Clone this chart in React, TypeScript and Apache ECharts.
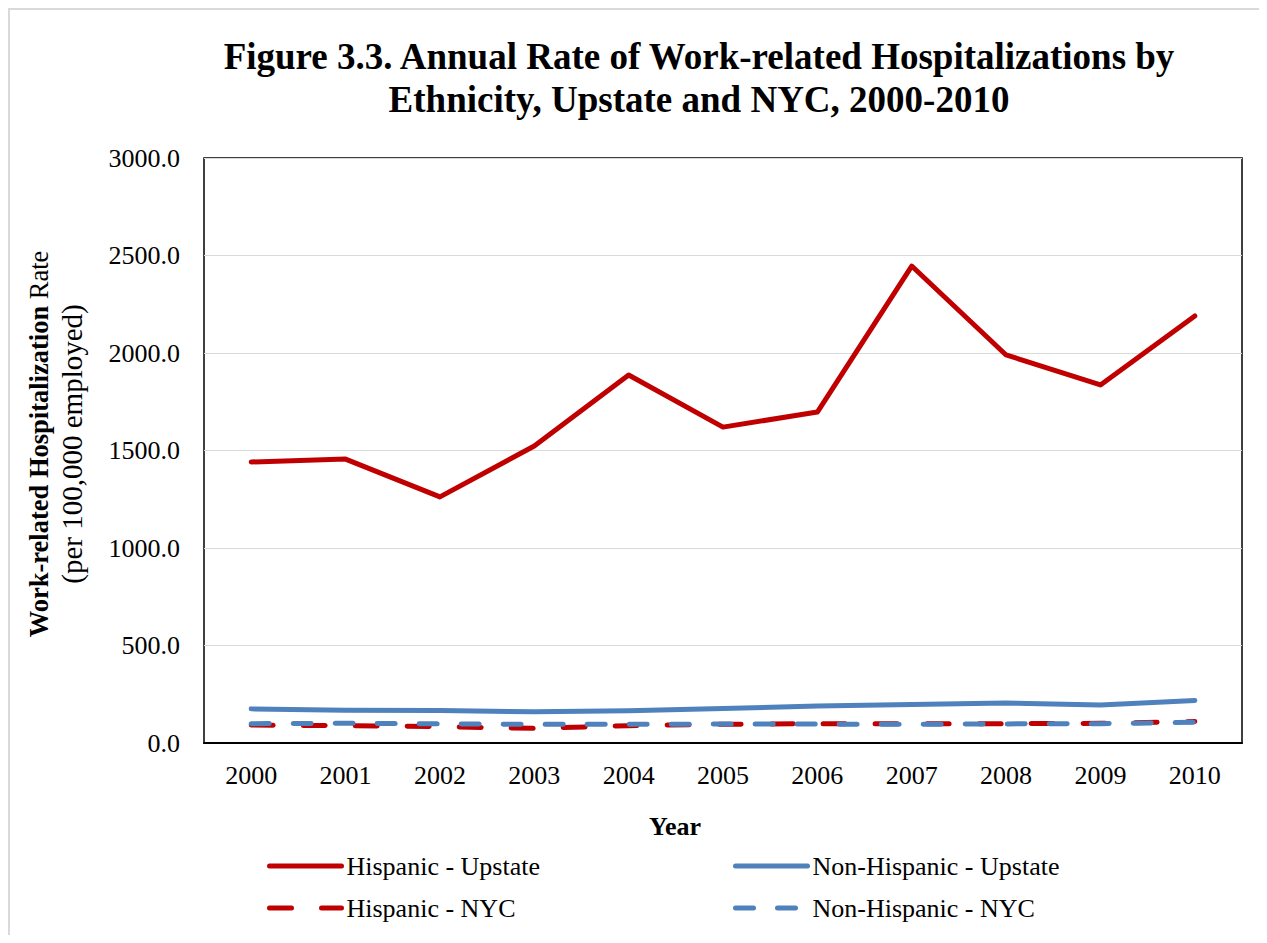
import React, { useEffect, useRef } from "react";
import * as echarts from "echarts";

const years = ["2000", "2001", "2002", "2003", "2004", "2005", "2006", "2007", "2008", "2009", "2010"];
const hispanicUpstate = [1441, 1456, 1262, 1523, 1887, 1620, 1697, 2446, 1990, 1836, 2190];
const nonHispanicUpstate = [175, 168, 167, 160, 165, 177, 190, 197, 205, 195, 218];
const hispanicNYC = [92, 89, 84, 75, 89, 96, 99, 99, 99, 101, 110];
const nonHispanicNYC = [99, 101, 98, 96, 96, 97, 97, 96, 98, 99, 106];

const seriesNames = ["Hispanic - Upstate", "Non-Hispanic - Upstate", "Hispanic - NYC", "Non-Hispanic - NYC"];
const RED = "#C00000";
const BLUE = "#4F81BD";
const FONT = "'Liberation Serif', 'Times New Roman', serif";

export default function App() {
  const ref = useRef<HTMLDivElement>(null);
  useEffect(() => {
    if (!ref.current) return;
    const chart = echarts.init(ref.current, undefined, { renderer: "svg" });
    const legendBase = {
      orient: "horizontal",
      padding: 0,
      itemWidth: 72,
      itemHeight: 14,
      textStyle: { fontFamily: FONT, fontSize: 26, color: "#000" },
      itemStyle: { opacity: 0 },
      lineStyle: { width: 5 },
      selectedMode: false,
    };
    chart.setOption({
      animation: false,
      textStyle: { fontFamily: FONT },
      graphic: [
        {
          type: "rect",
          shape: { x: 1, y: 1, width: 1300, height: 1000 },
          style: { fill: "none", stroke: "#d9d9d9", lineWidth: 2 },
          silent: true,
        },
        {
          type: "text",
          x: 691,
          y: 70,
          style: {
            text: "Figure 3.3. Annual Rate of Work-related Hospitalizations by\nEthnicity, Upstate and NYC, 2000-2010",
            font: "bold 37px " + FONT,
            fill: "#000",
            textAlign: "center",
            textVerticalAlign: "middle",
            lineHeight: 43,
          },
        },
        {
          type: "text",
          x: 667,
          y: 818,
          style: {
            text: "Year",
            font: "bold 26px " + FONT,
            fill: "#000",
            textAlign: "center",
            textVerticalAlign: "middle",
          },
        },
        {
          type: "text",
          x: 47,
          y: 436,
          rotation: Math.PI / 2,
          style: {
            text: "{b|Work-related Hospitalization}{n| Rate}\n{m|(per 100,000 employed)}",
            fill: "#000",
            textAlign: "center",
            textVerticalAlign: "middle",
            rich: {
              b: { fontFamily: FONT, fontSize: 26.5, fontWeight: "bold", fill: "#000", lineHeight: 33 },
              n: { fontFamily: FONT, fontSize: 26.5, fill: "#000", lineHeight: 33 },
              m: { fontFamily: FONT, fontSize: 29, fill: "#000", lineHeight: 33 },
            },
          },
        },
      ],
      grid: {
        left: 196,
        right: 17,
        top: 150,
        bottom: 192,
        show: true,
        borderColor: "#000",
        borderWidth: 1.5,
        containLabel: false,
      },
      legend: [
        { ...legendBase, data: [seriesNames[0]], left: 259, top: 845 },
        { ...legendBase, data: [seriesNames[1]], left: 725, top: 845 },
        { ...legendBase, data: [seriesNames[2]], left: 259, top: 887 },
        { ...legendBase, data: [seriesNames[3]], left: 725, top: 887 },
      ],
      xAxis: {
        type: "category",
        data: years,
        boundaryGap: true,
        axisLine: { show: true, lineStyle: { color: "#000", width: 2 } },
        axisTick: { show: false },
        axisLabel: { fontFamily: FONT, fontSize: 26, color: "#000", margin: 19 },
      },
      yAxis: {
        type: "value",
        min: 0,
        max: 3000,
        interval: 500,
        axisLine: { show: false },
        axisTick: { show: false },
        splitLine: { show: true, lineStyle: { color: "#d9d9d9", width: 1 } },
        axisLabel: {
          fontFamily: FONT,
          fontSize: 26,
          color: "#000",
          margin: 24,
          formatter: (v: number) => v.toFixed(1),
        },
      },
      series: [
        {
          name: seriesNames[0],
          type: "line",
          data: hispanicUpstate,
          symbol: "none",
          lineStyle: { color: RED, width: 5, cap: "round", join: "round" },
          itemStyle: { color: RED },
        },
        {
          name: seriesNames[1],
          type: "line",
          data: nonHispanicUpstate,
          symbol: "none",
          lineStyle: { color: BLUE, width: 5, cap: "round", join: "round" },
          itemStyle: { color: BLUE },
        },
        {
          name: seriesNames[2],
          type: "line",
          data: hispanicNYC,
          symbol: "none",
          lineStyle: { color: RED, width: 5, type: [22, 30], cap: "round", join: "round" },
          itemStyle: { color: RED },
        },
        {
          name: seriesNames[3],
          type: "line",
          data: nonHispanicNYC,
          symbol: "none",
          lineStyle: { color: BLUE, width: 5, type: [18, 24], cap: "round", join: "round" },
          itemStyle: { color: BLUE },
        },
      ],
    });
    return () => chart.dispose();
  }, []);
  return <div ref={ref} style={{ width: 1251, height: 927 }} />;
}
